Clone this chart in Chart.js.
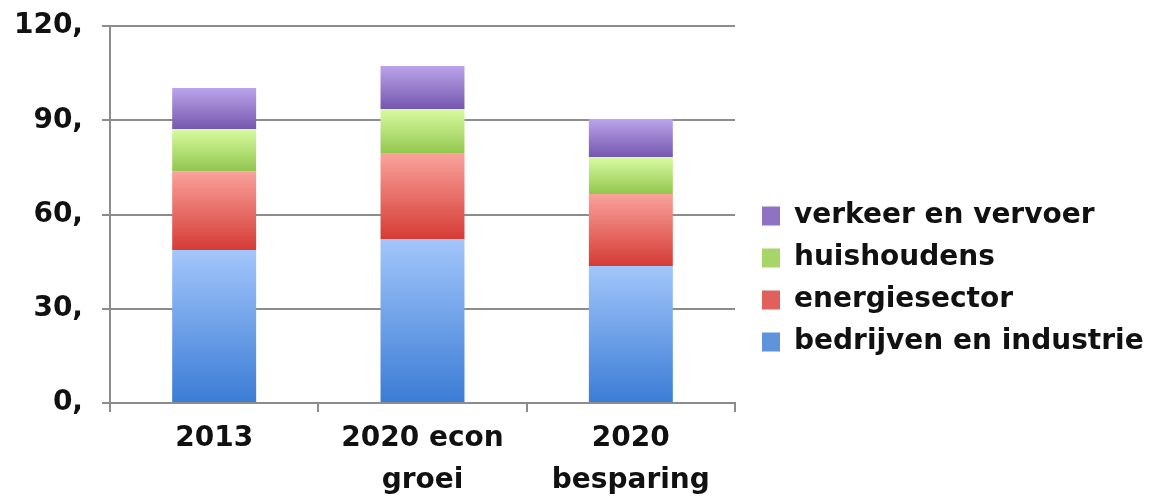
<!DOCTYPE html>
<html>
<head>
<meta charset="utf-8">
<script src="https://cdn.jsdelivr.net/npm/chart.js@4/dist/chart.umd.min.js"></script>
<style>
  html, body { margin: 0; padding: 0; background: #fff; }
  #wrap { width: 1156px; height: 502px; }
</style>
</head>
<body>
<div id="wrap"><canvas id="emissions" width="1156" height="502"></canvas></div>
<script>
const categories = ['2013', ['2020 econ', 'groei'], ['2020', 'besparing']];
const yTicks = [0, 30, 60, 90, 120];

// stacked from the bottom up
const seriesNames = ['bedrijven en industrie', 'energiesector', 'huishoudens', 'verkeer en vervoer'];
const bedrijven = [48.7, 52.2, 43.6];
const energie = [25.1, 27.1, 22.9];
const huishoudens = [13.4, 14.3, 11.8];
const verkeer = [13.1, 13.7, 12.1];
const seriesValues = [bedrijven, energie, huishoudens, verkeer];

// light top -> dark bottom for each segment, plus a flat colour for the legend
const gradTop = ['#a3c6fb', '#faa29c', '#d9fba2', '#bca4ec'];
const gradBottom = ['#3b7cd6', '#d63b35', '#92c64e', '#7557ad'];
const legendColors = ['#5f93dc', '#e0605a', '#a8d46a', '#8e72c4'];

const axisGray = '#8c8c8c';
const textColor = '#111';
const font = { family: 'DejaVu Sans', size: 28, weight: 'bold', lineHeight: 1.5 };

function segmentFill(c) {
  const flat = legendColors[c.datasetIndex];
  if (c.type !== 'data' || !c.chart.chartArea) return flat;
  const y = c.chart.scales.y;
  let base = 0;
  for (let i = 0; i < c.datasetIndex; i++) base += seriesValues[i][c.dataIndex];
  const top = base + seriesValues[c.datasetIndex][c.dataIndex];
  const y0 = y.getPixelForValue(top);
  const y1 = y.getPixelForValue(base);
  if (!isFinite(y0) || !isFinite(y1)) return flat;
  const g = c.chart.ctx.createLinearGradient(0, y0, 0, y1);
  g.addColorStop(0, gradTop[c.datasetIndex]);
  g.addColorStop(1, gradBottom[c.datasetIndex]);
  return g;
}

// legend sits a bit right of and lower than where Chart.js would put it
const legendShift = {
  id: 'legendShift',
  afterInit(chart) {
    const legend = chart.legend;
    const fit = legend.fit.bind(legend);
    legend.fit = function () {
      fit();
      this.width = 421;
    };
    const draw = legend.draw.bind(legend);
    legend.draw = function () {
      const ctx = this.ctx;
      ctx.save();
      ctx.translate(13, 15);
      draw();
      ctx.restore();
    };
  }
};

const datasets = seriesNames.map((name, i) => ({
  label: name,
  data: seriesValues[i],
  backgroundColor: segmentFill,
  borderWidth: 0,
  barPercentage: 0.403,
  categoryPercentage: 1
}));

new Chart(document.getElementById('emissions'), {
  type: 'bar',
  data: { labels: categories, datasets: datasets },
  plugins: [legendShift],
  options: {
    responsive: false,
    animation: false,
    layout: { padding: { top: 26, right: 0, bottom: 0, left: 0 } },
    scales: {
      x: {
        stacked: true,
        afterFit: s => { s.height = 99; s.paddingLeft = 0; s.paddingRight = 0; },
        grid: { drawOnChartArea: false, color: axisGray, lineWidth: 2, tickLength: 9, offset: true },
        border: { color: axisGray, width: 2 },
        ticks: { color: textColor, font: font, padding: 6, maxRotation: 0 }
      },
      y: {
        stacked: true,
        min: 0,
        max: 120,
        afterFit: s => { s.width = 110; s.paddingTop = 0; s.paddingBottom = 0; },
        afterBuildTicks: s => { s.ticks = yTicks.map(v => ({ value: v })); },
        grid: { color: axisGray, lineWidth: 2, tickLength: 8 },
        border: { color: axisGray, width: 2 },
        ticks: { color: textColor, font: { ...font, lineHeight: 1 }, padding: 19, callback: v => v + ',' }
      }
    },
    plugins: {
      tooltip: { enabled: false },
      legend: {
        position: 'right',
        reverse: true,
        labels: {
          color: textColor,
          font: font,
          boxWidth: 18,
          boxHeight: 19,
          padding: 14,
          generateLabels: chart => {
            const items = Chart.defaults.plugins.legend.labels.generateLabels(chart);
            items.forEach(it => {
              it.fillStyle = legendColors[it.datasetIndex];
              it.strokeStyle = legendColors[it.datasetIndex];
              it.lineWidth = 0;
            });
            return items;
          }
        }
      }
    }
  }
});
</script>
</body>
</html>
